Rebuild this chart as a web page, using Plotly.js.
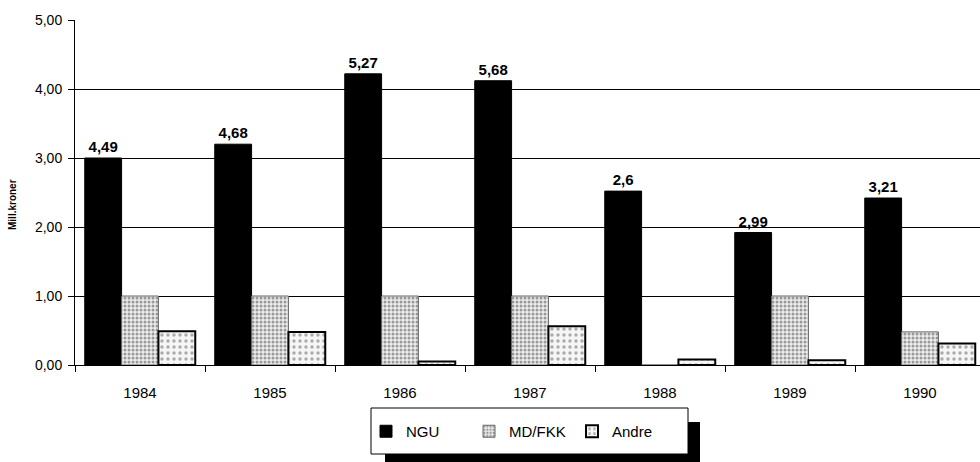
<!DOCTYPE html>
<html>
<head>
<meta charset="utf-8">
<script src="https://cdn.plot.ly/plotly-3.0.1.min.js"></script>
<style>html,body{margin:0;padding:0;background:#fff;}#chart{width:980px;height:462px;}</style>
</head>
<body>
<div id="chart"></div>
<script>
var years = ['1984', '1985', '1986', '1987', '1988', '1989', '1990'];
var ngu = [3.00, 3.20, 4.22, 4.12, 2.52, 1.92, 2.42];
var mdfkk = [1.00, 1.00, 1.00, 1.00, 0, 1.00, 0.48];
var andre = [0.49, 0.48, 0.05, 0.56, 0.08, 0.07, 0.31];
var totalLabels = ['4,49', '4,68', '5,27', '5,68', '2,6', '2,99', '3,21'];
var yTicks = [0, 1, 2, 3, 4, 5];

var traces = [
  {
    type: 'bar', name: 'NGU', x: years, y: ngu,
    marker: {color: '#000', line: {color: '#000', width: 1}},
    text: totalLabels, textposition: 'outside', cliponaxis: false,
    textfont: {family: 'Arial, Liberation Sans, sans-serif', size: 15, color: '#000', weight: 'bold'}
  },
  {
    type: 'bar', name: 'MD/FKK', x: years, y: mdfkk,
    marker: {color: '#fff', line: {color: '#666', width: 1},
      pattern: {shape: '.', fgcolor: '#999', bgcolor: '#ececec', size: 4, solidity: 0.45}}
  },
  {
    type: 'bar', name: 'Andre', x: years, y: andre,
    marker: {color: '#fff', line: {color: '#000', width: 2},
      pattern: {shape: '.', fgcolor: '#aaa', bgcolor: '#f6f6f6', size: 6, solidity: 0.25}}
  }
];

var pl = 75, pr = 980, pt = 20, pb = 365;
function px(x) { return (x - pl) / (pr - pl); }
function py(y) { return (pb - y) / (pb - pt); }

var layout = {
  width: 980, height: 462,
  margin: {l: 75, r: 0, t: 20, b: 97},
  paper_bgcolor: '#fff', plot_bgcolor: '#fff',
  separators: ', ',
  barmode: 'group', bargap: 0.15, bargroupgap: 0,
  font: {family: 'Arial, Liberation Sans, sans-serif', color: '#000', size: 12},
  showlegend: true,
  xaxis: {
    type: 'category', range: [-0.5, 6.4615], showline: true, linecolor: '#000', linewidth: 1,
    ticks: 'outside', tickson: 'boundaries', ticklen: 6, tickcolor: '#000',
    showgrid: false, tickfont: {size: 15}, zeroline: false, ticklabelstandoff: 14
  },
  yaxis: {
    range: [0, 5], tickvals: yTicks, tickformat: '.2f',
    showline: true, linecolor: '#000', linewidth: 1,
    ticks: 'outside', ticklen: 6, tickcolor: '#000',
    showgrid: true, gridcolor: '#000', gridwidth: 1, zeroline: false,
    tickfont: {size: 14}, ticklabelstandoff: 3
  },
  annotations: [
    {text: '<b>Mill.kroner</b>', xref: 'paper', yref: 'paper', x: px(13), y: py(205),
     xanchor: 'center', yanchor: 'middle', textangle: -90, showarrow: false,
     font: {family: 'Liberation Sans Narrow, Arial Narrow, sans-serif', size: 10, color: '#000'}}
  ],
  legend: {
    orientation: 'h', x: px(366), y: py(415), xanchor: 'left', yanchor: 'top',
    bgcolor: 'rgba(0,0,0,0)', borderwidth: 0,
    font: {size: 15}, entrywidth: 58, traceorder: 'normal'
  },
  shapes: [
    {type: 'rect', xref: 'paper', yref: 'paper', x0: px(385), x1: px(700), y0: py(462), y1: py(422),
     fillcolor: '#000', line: {width: 0}, layer: 'above'},
    {type: 'rect', xref: 'paper', yref: 'paper', x0: px(371), x1: px(688), y0: py(454), y1: py(408),
     fillcolor: '#fff', line: {color: '#000', width: 1}, layer: 'above'}
  ]
};

Plotly.newPlot('chart', traces, layout, {displayModeBar: false, staticPlot: true});
</script>
</body>
</html>
